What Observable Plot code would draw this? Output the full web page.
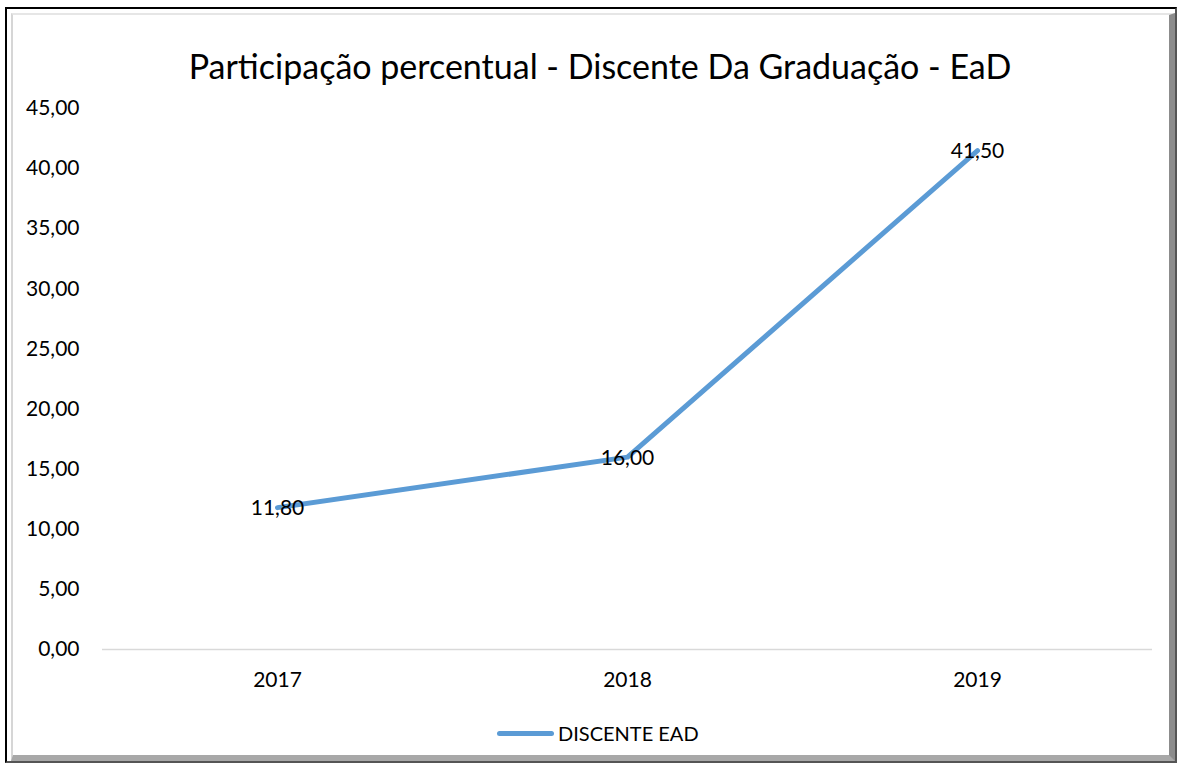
<!DOCTYPE html>
<html>
<head>
<meta charset="utf-8">
<script src="https://cdn.jsdelivr.net/npm/d3@7"></script>
<script src="https://cdn.jsdelivr.net/npm/@observablehq/plot@0.6"></script>
<style>
  html, body { margin: 0; padding: 0; background: #fff; width: 1180px; height: 764px; overflow: hidden; font-family: Lato, "Open Sans", sans-serif; }
  #frame { position: absolute; left: 5px; top: 7px; width: 1168px; height: 752px; border: 2px solid #000; border-right-color: #555; border-bottom-color: #555; box-sizing: content-box; }
  #inner { position: absolute; left: 4px; top: 4px; right: 0px; bottom: 0px; border-left: 2px solid #d6d6d6; border-top: 2px solid #e6e6e6; border-right: 6px solid #8c8c8c; border-bottom: 6px solid #a8a8a8; }
  #chart { position: absolute; left: 0; top: 0; }
  #title { position: absolute; left: 0; width: 1200px; top: 44px; text-align: center; font-size: 34px; color: #000; line-height: 44px; white-space: nowrap; }
  #legend { position: absolute; left: 497px; top: 720px; height: 26px; display: flex; align-items: center; font-size: 20px; color: #000; }
  #legend .sw { width: 57px; height: 5px; border-radius: 3px; background: #5b9bd5; margin-right: 4px; }
</style>
</head>
<body>
<div id="frame"><div id="inner"></div></div>
<div id="chart"></div>
<div id="title">Participação percentual - Discente Da Graduação - EaD</div>
<div id="legend"><div class="sw"></div><span>DISCENTE EAD</span></div>
<script>
const years = ["2017", "2018", "2019"];
const values = [11.80, 16.00, 41.50];
const yTicks = [0, 5, 10, 15, 20, 25, 30, 35, 40, 45];
const seriesName = "DISCENTE EAD";

const data = years.map((y, i) => ({year: y, value: values[i], series: seriesName}));
const fmt = v => d3.format(".2f")(v).replace(".", ",");

const chart = Plot.plot({
  width: 1180,
  height: 700,
  marginLeft: 102,
  marginRight: 28,
  marginTop: 108,
  marginBottom: 51,
  style: {fontFamily: "Lato, 'Open Sans', sans-serif", fontSize: "21px", color: "#000", background: "transparent"},
  x: {type: "point", domain: years, padding: 0.5, label: null},
  y: {domain: [0, 45], label: null},
  marks: [
    Plot.ruleY([0], {stroke: "#d9d9d9", strokeWidth: 1.5}),
    Plot.axisY({ticks: yTicks, tickFormat: fmt, tickSize: 0, tickPadding: 23, label: null, fontSize: 21}),
    Plot.axisX({tickSize: 0, tickPadding: 23, label: null, fontSize: 21}),
    Plot.line(data, {x: "year", y: "value", stroke: "#5b9bd5", strokeWidth: 5, strokeLinecap: "round", strokeLinejoin: "round"}),
    Plot.text(data, {x: "year", y: "value", text: d => fmt(d.value), fontSize: 21, fill: "#000", dy: 1})
  ]
});
document.getElementById("chart").appendChild(chart);
</script>
</body>
</html>
